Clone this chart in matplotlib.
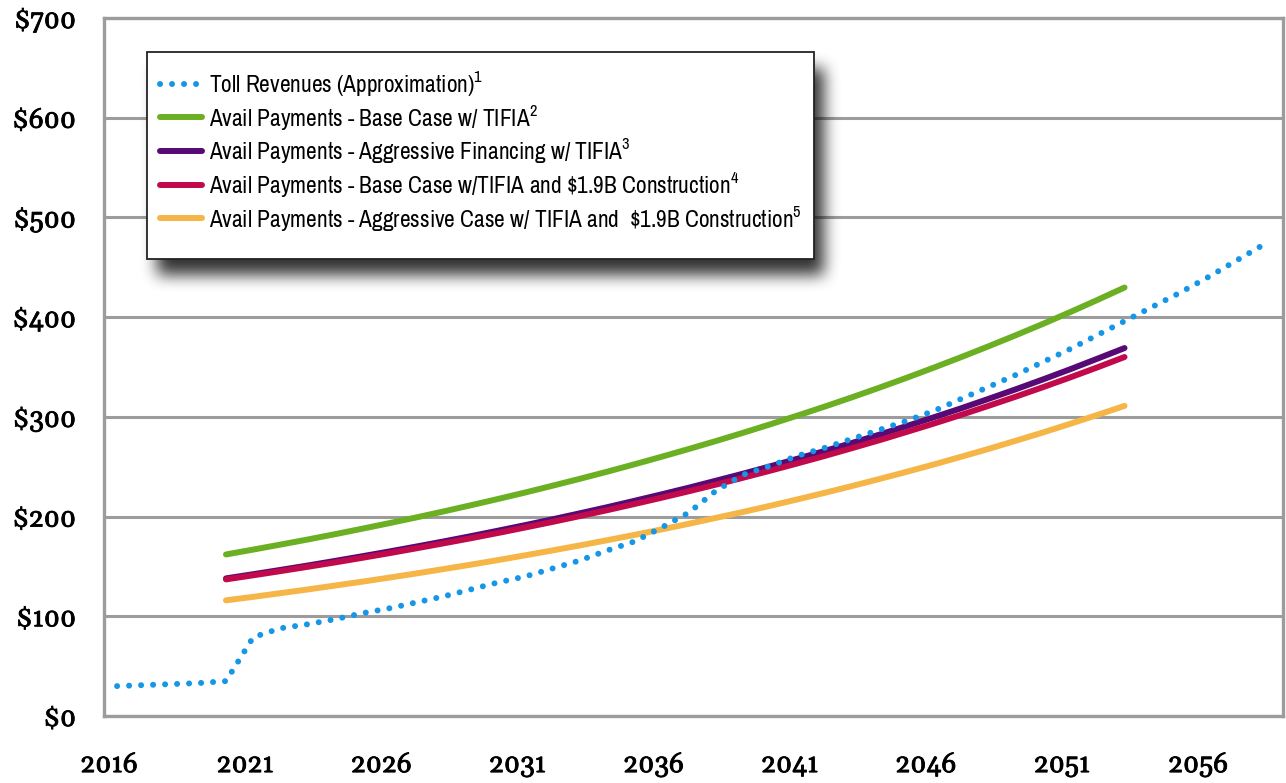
import numpy as np
import matplotlib
matplotlib.use("Agg")
import matplotlib.pyplot as plt
import matplotlib.patheffects as pe
from matplotlib import font_manager
from matplotlib.patches import Rectangle
from matplotlib.transforms import ScaledTranslation

# ---- data ($ millions) ----
toll_years = list(range(2016, 2059))
toll_rev = [30, 31, 32, 33, 35, 79, 88, 92, 97, 103,
            108, 114, 120, 127, 134, 140, 148, 156, 166, 175,
            189, 204, 226, 242, 251, 261, 269, 278, 287, 296,
            306, 318, 330, 342, 355, 368, 382, 396, 410, 424,
            439, 455, 471]

avail_years = list(range(2020, 2054))
base_tifia = [162.0, 166.9, 171.9, 177.0, 182.3, 187.8, 193.4, 199.2, 205.2, 211.4,
              217.7, 224.2, 231.0, 237.9, 245.0, 252.4, 260.0, 267.8, 275.8, 284.1,
              292.6, 301.4, 310.4, 319.7, 329.3, 339.2, 349.4, 359.9, 370.7, 381.8,
              393.2, 405.0, 417.2, 429.7]
aggr_tifia = [138.0, 142.2, 146.5, 150.9, 155.5, 160.2, 165.0, 170.0, 175.1, 180.4,
              185.9, 191.5, 197.3, 203.3, 209.4, 215.8, 222.3, 229.0, 236.0, 243.1,
              250.5, 258.1, 265.9, 273.9, 282.2, 290.8, 299.6, 308.6, 318.0, 327.6,
              337.5, 347.7, 358.3, 369.0]
base_constr = [137.0, 141.1, 145.3, 149.6, 154.0, 158.6, 163.3, 168.2, 173.2, 178.3,
               183.6, 189.1, 194.7, 200.5, 206.4, 212.6, 218.9, 225.4, 232.1, 239.0,
               246.1, 253.4, 260.9, 268.7, 276.6, 284.9, 293.3, 302.0, 311.0, 320.2,
               329.7, 339.5, 349.6, 360.0]
aggr_constr = [116.0, 119.5, 123.2, 126.9, 130.8, 134.7, 138.8, 143.0, 147.4, 151.8,
               156.4, 161.2, 166.1, 171.1, 176.3, 181.6, 187.1, 192.8, 198.7, 204.7,
               210.9, 217.3, 223.9, 230.7, 237.7, 244.9, 252.3, 260.0, 267.8, 276.0,
               284.3, 293.0, 301.9, 311.0]

labels = [
    "Toll Revenues (Approximation)$^{1}$",
    "Avail Payments - Base Case w/ TIFIA$^{2}$",
    "Avail Payments - Aggressive Financing w/ TIFIA$^{3}$",
    "Avail Payments - Base Case w/TIFIA and \\$1.9B Construction$^{4}$",
    "Avail Payments - Aggressive Case w/ TIFIA and  \\$1.9B Construction$^{5}$",
]
colors = ["#1596E6", "#6BAF23", "#570A75", "#C10A4C", "#F5B547"]

x_ticks = list(range(2016, 2057, 5))
y_ticks = list(range(0, 701, 100))

# ---- fonts ----
installed = {f.name for f in font_manager.fontManager.ttflist}
legend_font = "Archivo Narrow" if "Archivo Narrow" in installed else "Liberation Sans"
tick_font = "Gelasio" if "Gelasio" in installed else "Liberation Serif"
plt.rcParams["mathtext.fontset"] = "custom"
plt.rcParams["mathtext.rm"] = legend_font
plt.rcParams["mathtext.it"] = legend_font
plt.rcParams["mathtext.bf"] = legend_font

W, H, DPI = 1286, 783, 100
fig = plt.figure(figsize=(W / DPI, H / DPI), dpi=DPI)
ax = fig.add_axes([104 / W, (H - 716) / H, (1283 - 104) / W, (716 - 18) / H])

grid_c = "#9C9C9C"
lw = 4.3
dots = (0, (0.01, 2.0))

ax.plot(avail_years, base_tifia, color=colors[1], lw=lw, solid_capstyle="round", zorder=3)
ax.plot(avail_years, aggr_tifia, color=colors[2], lw=lw, solid_capstyle="round", zorder=3)
ax.plot(avail_years, base_constr, color=colors[3], lw=lw, solid_capstyle="round", zorder=3)
ax.plot(avail_years, aggr_constr, color=colors[4], lw=lw, solid_capstyle="round", zorder=3)
ax.plot(toll_years, toll_rev, color=colors[0], lw=4.3, linestyle=dots,
        dash_capstyle="round", zorder=4)

ax.set_xlim(2015.52, 2058.82)
ax.set_ylim(0, 700)
ax.set_xticks(x_ticks)
ax.set_yticks(y_ticks)
ax.set_yticklabels(["\\$%d" % v for v in y_ticks])
ax.grid(axis="y", color=grid_c, lw=2.2, zorder=1)
ax.grid(axis="x", visible=False)
for s in ax.spines.values():
    s.set_color(grid_c)
    s.set_linewidth(2.4)
ax.tick_params(length=0, labelsize=19)
ax.tick_params(axis="y", pad=20)
ax.tick_params(axis="x", pad=26)
bold = [pe.withStroke(linewidth=0.6, foreground="black")]
for lab in ax.get_xticklabels() + ax.get_yticklabels():
    lab.set_fontfamily(tick_font)
    lab.set_fontweight("bold")
    lab.set_path_effects(bold)
# year labels sit a little left of the data positions in the original
off = ScaledTranslation(-8 / DPI, 0, fig.dpi_scale_trans)
for lab in ax.get_xticklabels():
    lab.set_transform(lab.get_transform() + off)

# ---- legend box with soft drop shadow ----
box = (147, 52, 814, 259)  # left, top, right, bottom in pixels
shadow = np.zeros((H, W, 4))
mask = np.zeros((H, W))
dx, dy = 10, 16
mask[box[1] + dy:box[3] + dy, box[0] + dx:box[2] + dx] = 1.0
k = np.ones(15) / 15
for _ in range(3):
    mask = np.apply_along_axis(lambda r: np.convolve(r, k, mode="same"), 1, mask)
    mask = np.apply_along_axis(lambda c: np.convolve(c, k, mode="same"), 0, mask)
shadow[..., 3] = mask * 0.8
fig.figimage(shadow, 0, 0, origin="upper", zorder=3)

frame = Rectangle((box[0] / W, 1 - box[3] / H), (box[2] - box[0]) / W, (box[3] - box[1]) / H,
                  transform=fig.transFigure, facecolor="white", edgecolor="#222222",
                  lw=1.3, zorder=4)
fig.patches.append(frame)

handles = [plt.Line2D([], [], color=colors[0], lw=4.3, linestyle=dots, dash_capstyle="round")]
handles += [plt.Line2D([], [], color=c, lw=lw, solid_capstyle="round") for c in colors[1:]]
leg = fig.legend(handles, labels, loc="upper left",
                 bbox_to_anchor=(160 / W, 1 - 69 / H),
                 bbox_transform=fig.transFigure, borderaxespad=0, borderpad=0,
                 prop={"family": legend_font, "size": 16.8},
                 handlelength=1.8, handletextpad=0.3, labelspacing=0.2,
                 frameon=False)
leg.set_zorder(5)

fig.savefig("out.png", dpi=DPI)
